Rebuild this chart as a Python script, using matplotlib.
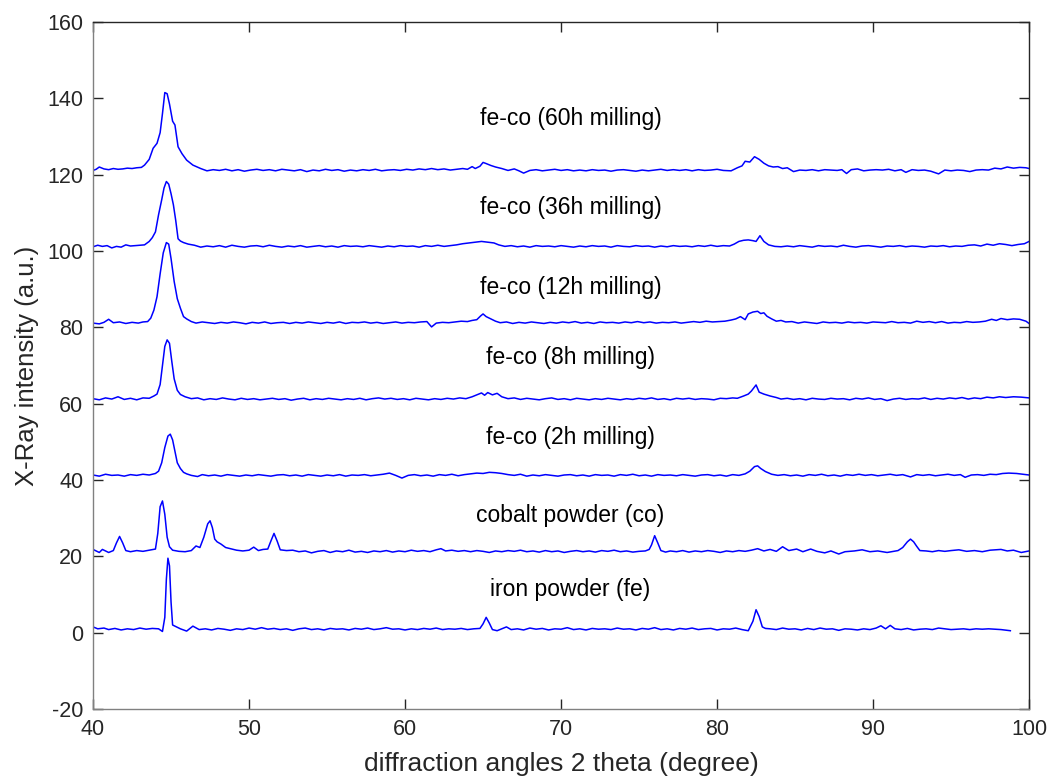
import matplotlib
matplotlib.use("Agg")
import matplotlib.pyplot as plt

plt.rcParams['font.family'] = ['Liberation Sans', 'DejaVu Sans']
plt.rcParams['axes.unicode_minus'] = False

# ---- data: (2theta, intensity) points ----
iron_powder = [(40.0,1.5),(40.3,1.0),(40.7,1.2),(41.0,0.8),(41.4,1.1),(41.8,0.7),(42.2,1.0),(42.6,0.8),(43.0,1.2),(43.4,0.9),(43.8,1.1),(44.2,1.0),(44.45,0.3),(44.6,4.0),(44.7,14.0),(44.8,19.5),(44.9,17.5),(45.0,8.0),(45.1,2.0),(45.3,1.6),(45.6,1.0),(46.0,0.4),(46.4,1.7),(46.8,0.8),(47.2,1.0),(47.6,0.7),(48.0,1.1),(48.4,0.9),(48.8,0.6),(49.2,1.0),(49.6,0.8),(50.0,1.2),(50.4,0.9),(50.8,1.3),(51.2,0.9),(51.6,1.1),(52.0,0.8),(52.4,1.0),(52.8,0.6),(53.2,1.0),(53.6,1.2),(54.0,0.8),(54.4,1.0),(54.8,0.7),(55.2,1.1),(55.6,0.9),(56.0,1.0),(56.4,0.7),(56.8,1.1),(57.2,0.9),(57.6,1.2),(58.0,0.8),(58.4,1.0),(58.8,1.3),(59.2,0.9),(59.6,1.0),(60.0,0.7),(60.4,1.0),(60.8,0.8),(61.2,1.1),(61.6,0.9),(62.0,1.2),(62.4,0.8),(62.8,1.0),(63.2,0.9),(63.6,1.1),(64.0,0.8),(64.4,1.0),(64.8,1.1),(65.0,2.3),(65.2,4.0),(65.4,2.5),(65.6,0.8),(65.9,0.5),(66.2,1.0),(66.5,1.5),(66.8,0.8),(67.2,1.0),(67.6,0.7),(68.0,1.2),(68.4,0.9),(68.8,1.1),(69.2,0.7),(69.6,1.0),(70.0,0.9),(70.4,1.3),(70.8,0.8),(71.2,1.0),(71.6,0.7),(72.0,1.1),(72.4,0.9),(72.8,1.0),(73.2,0.8),(73.6,1.2),(74.0,0.9),(74.4,1.0),(74.8,0.7),(75.2,1.1),(75.6,0.9),(76.0,1.3),(76.4,0.8),(76.8,1.0),(77.2,0.7),(77.6,1.1),(78.0,0.9),(78.4,1.2),(78.8,0.8),(79.2,1.0),(79.6,1.1),(80.0,0.7),(80.4,1.0),(80.8,0.9),(81.2,1.2),(81.6,0.8),(82.0,0.5),(82.3,3.0),(82.5,6.0),(82.7,4.2),(82.9,1.5),(83.1,1.1),(83.4,1.0),(83.8,0.8),(84.2,1.2),(84.6,0.9),(85.0,1.0),(85.4,0.7),(85.8,1.1),(86.2,0.8),(86.6,1.2),(87.0,0.9),(87.4,1.0),(87.8,0.6),(88.2,1.0),(88.6,0.9),(89.0,0.7),(89.4,1.0),(89.8,0.8),(90.2,1.2),(90.5,1.8),(90.8,1.0),(91.1,1.9),(91.4,1.0),(91.8,0.8),(92.2,1.1),(92.6,0.7),(93.0,0.9),(93.4,1.0),(93.8,0.8),(94.2,1.2),(94.6,1.0),(95.0,0.8),(95.4,0.9),(95.8,1.0),(96.2,0.8),(96.6,1.0),(97.0,0.9),(97.4,1.0),(97.8,0.9),(98.2,0.8),(98.8,0.5)]

cobalt_powder = [(40.0,21.8),(40.2,21.4),(40.4,21.0),(40.6,21.8),(40.8,21.4),(41.0,21.0),(41.3,21.5),(41.5,23.5),(41.7,25.2),(41.9,23.5),(42.1,21.5),(42.4,21.2),(42.8,21.5),(43.2,21.3),(43.6,21.6),(44.0,21.9),(44.15,26.0),(44.3,33.0),(44.45,34.5),(44.6,31.0),(44.75,25.0),(44.9,22.5),(45.1,21.6),(45.5,21.3),(45.9,21.2),(46.3,21.5),(46.6,22.7),(46.85,22.3),(47.1,25.0),(47.35,28.5),(47.5,29.3),(47.65,27.5),(47.8,24.5),(47.95,23.8),(48.2,23.2),(48.5,22.3),(48.8,22.0),(49.2,21.6),(49.6,21.4),(50.0,21.6),(50.3,22.4),(50.6,21.5),(50.9,21.8),(51.2,21.9),(51.4,24.0),(51.6,26.0),(51.8,24.0),(52.0,21.7),(52.4,21.5),(52.8,21.6),(53.2,21.2),(53.6,21.4),(54.0,20.9),(54.4,21.3),(54.8,21.5),(55.2,21.0),(55.6,21.4),(56.0,21.2),(56.4,21.6),(56.8,21.1),(57.2,21.3),(57.6,21.0),(58.0,21.4),(58.4,21.2),(58.8,21.5),(59.2,21.1),(59.6,21.4),(60.0,21.2),(60.4,21.6),(60.8,21.3),(61.2,21.5),(61.6,21.2),(62.0,21.7),(62.3,22.0),(62.6,21.4),(63.0,21.6),(63.4,21.3),(63.8,21.5),(64.2,21.2),(64.6,21.5),(65.0,21.3),(65.4,21.0),(65.8,21.4),(66.2,21.2),(66.6,21.5),(67.0,21.3),(67.4,21.6),(67.8,21.2),(68.2,21.4),(68.6,21.1),(69.0,21.5),(69.4,21.2),(69.8,21.4),(70.2,21.0),(70.6,21.3),(71.0,21.5),(71.4,21.2),(71.8,21.4),(72.2,21.1),(72.6,21.5),(73.0,21.3),(73.4,21.6),(73.8,21.2),(74.2,21.4),(74.6,21.1),(75.0,21.3),(75.4,21.4),(75.65,21.8),(75.8,23.0),(76.0,25.4),(76.2,23.5),(76.4,21.5),(76.7,21.1),(77.0,21.4),(77.4,21.2),(77.8,21.5),(78.2,21.1),(78.6,21.4),(79.0,21.2),(79.4,21.5),(79.8,21.3),(80.2,21.0),(80.6,21.4),(81.0,21.2),(81.4,21.5),(81.8,21.3),(82.2,21.6),(82.6,22.0),(83.0,21.4),(83.4,21.8),(83.8,21.3),(84.2,22.5),(84.6,21.5),(85.1,21.9),(85.5,21.2),(86.0,21.9),(86.4,21.3),(86.9,20.9),(87.3,21.4),(87.8,20.6),(88.2,21.2),(88.8,21.4),(89.3,21.7),(89.8,21.2),(90.3,21.4),(90.9,21.0),(91.3,21.3),(91.6,21.5),(91.9,22.3),(92.2,23.8),(92.4,24.5),(92.6,23.8),(92.8,22.6),(93.0,21.5),(93.4,21.4),(93.8,21.2),(94.2,21.5),(94.6,21.3),(95.0,21.5),(95.5,21.7),(96.0,21.3),(96.5,21.5),(97.0,21.2),(97.5,21.6),(98.2,21.8),(98.6,21.4),(99.0,21.6),(99.5,21.0),(100.0,21.4)]

feco_2h = [(40.0,41.3),(40.4,41.0),(40.8,41.5),(41.2,41.2),(41.6,41.3),(42.0,41.0),(42.4,41.4),(42.8,41.2),(43.2,41.5),(43.6,41.3),(44.0,41.7),(44.2,42.3),(44.4,44.5),(44.6,48.5),(44.8,51.5),(44.95,52.0),(45.1,50.5),(45.25,47.5),(45.4,44.5),(45.6,43.0),(45.8,42.0),(46.0,41.6),(46.3,41.2),(46.7,40.9),(47.0,41.4),(47.4,41.1),(47.8,41.3),(48.2,41.0),(48.6,41.4),(49.0,41.2),(49.4,41.0),(49.8,41.3),(50.2,41.1),(50.6,41.4),(51.0,41.2),(51.4,41.0),(51.8,41.3),(52.2,41.4),(52.6,41.1),(53.0,41.3),(53.4,41.0),(53.8,41.4),(54.2,41.2),(54.6,41.0),(55.0,41.3),(55.4,41.1),(55.8,41.4),(56.2,41.0),(56.6,41.3),(57.0,41.2),(57.4,41.4),(57.8,41.1),(58.2,41.3),(58.6,41.5),(59.0,41.8),(59.4,41.2),(59.8,40.5),(60.2,41.2),(60.6,41.4),(61.0,41.1),(61.4,41.3),(61.8,41.0),(62.2,41.4),(62.6,41.2),(63.0,41.5),(63.4,41.1),(63.8,41.4),(64.2,41.6),(64.6,41.8),(65.0,41.7),(65.4,42.0),(65.8,41.9),(66.2,41.7),(66.6,41.4),(67.0,41.2),(67.4,41.5),(67.8,41.0),(68.2,41.3),(68.6,41.1),(69.0,41.4),(69.4,41.2),(69.8,41.0),(70.2,41.3),(70.6,41.4),(71.0,41.1),(71.4,41.3),(71.8,41.0),(72.2,41.4),(72.6,41.2),(73.0,41.3),(73.4,41.0),(73.8,41.4),(74.2,41.2),(74.6,41.5),(75.0,41.1),(75.4,41.3),(75.8,41.0),(76.2,41.4),(76.6,41.2),(77.0,41.3),(77.4,41.1),(77.8,41.4),(78.2,41.2),(78.6,41.0),(79.0,41.3),(79.4,41.4),(79.8,41.1),(80.2,41.3),(80.6,41.0),(81.0,41.4),(81.4,41.2),(81.8,41.6),(82.1,42.3),(82.4,43.5),(82.6,43.7),(82.8,43.0),(83.1,42.2),(83.5,41.5),(83.9,41.2),(84.3,41.4),(84.7,41.1),(85.1,41.3),(85.5,41.0),(85.9,41.4),(86.3,41.2),(86.7,41.5),(87.1,41.1),(87.5,41.3),(87.9,41.0),(88.3,41.4),(88.7,41.2),(89.1,41.5),(89.5,41.2),(89.9,41.4),(90.3,41.1),(90.7,41.3),(91.1,41.5),(91.5,41.2),(91.9,41.4),(92.4,40.8),(92.8,41.4),(93.2,41.2),(93.6,41.4),(94.0,41.1),(94.4,41.3),(94.8,41.5),(95.2,41.2),(95.6,41.4),(95.9,40.7),(96.3,41.3),(96.7,41.4),(97.1,41.2),(97.5,41.5),(97.9,41.4),(98.3,41.7),(98.7,41.8),(99.2,41.7),(99.6,41.5),(100.0,41.3)]

feco_8h = [(40.0,61.3),(40.4,61.0),(40.8,61.5),(41.2,61.2),(41.6,61.8),(42.0,61.1),(42.4,61.4),(42.8,61.0),(43.2,61.5),(43.6,61.4),(43.9,62.0),(44.1,62.5),(44.3,65.0),(44.45,70.0),(44.6,75.0),(44.75,76.7),(44.9,75.8),(45.05,71.0),(45.2,66.5),(45.4,63.5),(45.6,62.4),(45.9,61.8),(46.3,61.3),(46.7,61.5),(47.1,61.0),(47.5,61.3),(47.9,61.1),(48.3,61.5),(48.7,61.2),(49.1,61.0),(49.5,61.4),(49.9,61.1),(50.3,61.3),(50.7,61.0),(51.1,61.2),(51.5,61.4),(51.9,61.1),(52.3,61.3),(52.7,60.9),(53.1,61.2),(53.5,61.4),(53.9,61.0),(54.3,61.3),(54.7,61.1),(55.1,61.4),(55.5,61.2),(55.9,61.0),(56.3,61.3),(56.7,61.1),(57.1,61.4),(57.5,61.0),(57.9,61.3),(58.3,61.5),(58.7,61.2),(59.1,61.4),(59.5,61.1),(59.9,61.3),(60.3,61.0),(60.7,61.4),(61.1,61.2),(61.5,61.0),(61.9,61.3),(62.3,61.1),(62.7,61.4),(63.1,61.2),(63.5,61.5),(63.9,61.3),(64.3,61.8),(64.6,62.3),(64.9,62.8),(65.1,62.2),(65.3,62.9),(65.6,62.3),(65.9,62.7),(66.2,61.8),(66.6,61.3),(67.0,61.5),(67.4,61.1),(67.8,61.4),(68.2,61.2),(68.6,61.0),(69.0,61.3),(69.4,61.5),(69.8,61.1),(70.2,61.3),(70.6,61.0),(71.0,61.4),(71.4,61.2),(71.8,61.0),(72.2,61.3),(72.6,61.1),(73.0,61.4),(73.4,61.2),(73.8,61.0),(74.2,61.3),(74.6,61.1),(75.0,61.4),(75.4,61.2),(75.8,61.5),(76.2,61.1),(76.6,61.3),(77.0,61.0),(77.4,61.4),(77.8,61.2),(78.2,61.4),(78.6,61.1),(79.0,61.3),(79.4,61.2),(79.8,61.0),(80.2,61.4),(80.6,61.3),(81.0,61.5),(81.3,61.4),(81.7,62.0),(82.0,62.5),(82.2,63.3),(82.5,64.9),(82.7,63.0),(83.0,62.5),(83.4,62.0),(83.8,61.6),(84.1,61.2),(84.5,61.4),(84.9,61.1),(85.3,61.3),(85.7,61.0),(86.1,61.4),(86.5,61.2),(86.9,61.1),(87.3,61.4),(87.7,61.2),(88.1,61.3),(88.5,61.0),(88.9,61.4),(89.3,61.2),(89.7,61.5),(90.1,61.1),(90.5,61.3),(90.9,60.8),(91.3,61.2),(91.7,61.4),(92.1,61.1),(92.5,61.3),(92.9,61.2),(93.3,61.5),(93.7,61.1),(94.1,61.4),(94.5,61.2),(94.9,61.5),(95.3,61.3),(95.7,61.6),(96.1,61.2),(96.5,61.5),(96.9,61.3),(97.3,61.7),(97.7,61.5),(98.1,61.8),(98.5,61.6),(99.0,61.8),(99.5,61.7),(100.0,61.5)]

feco_12h = [(40.0,81.1),(40.4,80.9),(40.7,81.3),(41.0,82.1),(41.3,81.2),(41.7,81.4),(42.1,81.0),(42.5,81.3),(42.9,81.1),(43.2,81.4),(43.5,81.5),(43.7,82.4),(43.9,84.5),(44.1,88.0),(44.3,94.0),(44.5,99.5),(44.7,102.2),(44.85,101.8),(45.0,98.0),(45.2,92.0),(45.4,87.5),(45.6,85.0),(45.8,82.8),(46.0,82.2),(46.3,81.5),(46.6,81.1),(47.0,81.4),(47.4,81.2),(47.8,81.0),(48.2,81.3),(48.6,81.1),(49.0,81.4),(49.4,81.2),(49.8,80.9),(50.2,81.3),(50.6,81.1),(51.0,81.4),(51.4,81.0),(51.8,81.2),(52.2,81.3),(52.6,81.0),(53.0,81.3),(53.4,81.1),(53.8,81.4),(54.2,81.2),(54.6,81.0),(55.0,81.3),(55.4,81.1),(55.8,81.4),(56.2,81.0),(56.6,81.3),(57.0,81.2),(57.4,81.4),(57.8,81.1),(58.2,81.3),(58.6,81.0),(59.0,81.2),(59.4,81.4),(59.8,81.1),(60.2,81.3),(60.6,81.2),(61.0,81.4),(61.4,81.5),(61.7,80.1),(62.0,81.1),(62.4,81.3),(62.8,81.2),(63.2,81.4),(63.6,81.6),(64.0,81.5),(64.3,81.8),(64.6,82.0),(64.85,83.0),(65.0,83.5),(65.2,82.8),(65.5,82.2),(65.8,81.6),(66.1,81.2),(66.5,81.4),(66.9,81.0),(67.3,81.3),(67.7,81.1),(68.1,81.4),(68.5,81.2),(68.9,81.0),(69.3,81.3),(69.7,81.1),(70.1,81.4),(70.5,81.2),(70.9,81.5),(71.3,81.1),(71.7,81.3),(72.1,81.0),(72.5,81.4),(72.9,81.2),(73.3,81.3),(73.7,81.1),(74.1,81.4),(74.5,81.2),(74.9,81.5),(75.3,81.2),(75.7,81.4),(76.1,81.1),(76.5,81.3),(76.9,81.2),(77.3,81.4),(77.7,81.1),(78.1,81.3),(78.5,81.5),(78.9,81.3),(79.3,81.6),(79.7,81.4),(80.1,81.5),(80.5,81.6),(80.9,81.9),(81.2,82.2),(81.5,82.8),(81.8,82.0),(82.0,83.5),(82.3,84.0),(82.6,84.2),(82.8,83.6),(83.0,83.8),(83.2,82.9),(83.5,82.2),(83.8,81.6),(84.1,81.8),(84.4,81.4),(84.8,81.5),(85.2,81.1),(85.6,81.4),(86.0,81.2),(86.4,81.0),(86.8,81.4),(87.2,81.2),(87.6,81.3),(88.0,81.1),(88.4,81.4),(88.8,81.2),(89.2,81.3),(89.6,81.1),(90.0,81.4),(90.4,81.3),(90.8,81.2),(91.2,81.5),(91.6,81.2),(92.0,81.3),(92.4,81.1),(92.8,81.6),(93.2,81.3),(93.6,81.5),(94.0,81.2),(94.4,81.5),(94.8,81.1),(95.2,81.3),(95.6,81.2),(96.0,81.5),(96.4,81.3),(96.8,81.4),(97.2,81.6),(97.6,82.1),(97.9,81.8),(98.2,82.3),(98.6,82.0),(99.0,82.2),(99.4,82.1),(99.8,81.6),(100.0,81.0)]

feco_36h = [(40.0,101.1),(40.3,101.5),(40.6,101.2),(40.9,101.4),(41.2,100.8),(41.5,101.2),(41.8,101.0),(42.1,101.6),(42.4,101.3),(42.7,101.4),(43.0,101.5),(43.3,101.6),(43.6,102.5),(43.8,103.5),(44.0,105.0),(44.2,109.5),(44.4,113.4),(44.55,116.5),(44.7,118.2),(44.85,117.5),(45.0,115.0),(45.15,112.1),(45.3,108.0),(45.45,103.2),(45.6,102.6),(45.8,102.2),(46.1,101.8),(46.5,101.5),(46.9,101.0),(47.3,101.3),(47.7,101.1),(48.1,101.4),(48.5,101.0),(48.9,101.5),(49.3,101.2),(49.7,101.0),(50.1,101.3),(50.5,101.4),(50.9,101.1),(51.3,101.5),(51.7,101.2),(52.1,101.0),(52.5,101.3),(52.9,101.1),(53.3,101.4),(53.7,101.0),(54.1,101.2),(54.5,101.4),(54.9,101.1),(55.3,101.3),(55.7,101.0),(56.1,101.4),(56.5,101.2),(56.9,101.3),(57.3,101.1),(57.7,101.4),(58.1,101.2),(58.5,101.0),(58.9,101.3),(59.3,101.1),(59.7,101.4),(60.1,101.2),(60.5,101.3),(60.9,101.0),(61.3,101.4),(61.7,101.2),(62.1,101.5),(62.5,101.2),(62.9,101.4),(63.3,101.6),(63.7,101.9),(64.1,102.1),(64.5,102.3),(64.9,102.5),(65.3,102.3),(65.7,102.1),(66.0,101.6),(66.4,101.2),(66.8,101.4),(67.2,101.1),(67.6,101.3),(68.0,101.0),(68.4,101.4),(68.8,101.2),(69.2,101.3),(69.6,101.1),(70.0,101.4),(70.4,101.2),(70.8,101.0),(71.2,101.3),(71.6,101.1),(72.0,101.4),(72.4,101.2),(72.8,101.3),(73.2,101.0),(73.6,101.4),(74.0,101.2),(74.4,101.1),(74.8,101.4),(75.2,101.2),(75.6,101.3),(76.0,101.0),(76.4,101.3),(76.8,101.1),(77.2,101.4),(77.6,101.2),(78.0,101.3),(78.4,101.1),(78.8,101.4),(79.2,101.2),(79.6,101.5),(80.0,101.2),(80.4,101.4),(80.8,101.3),(81.1,101.8),(81.4,102.5),(81.7,102.8),(82.0,102.9),(82.3,102.7),(82.5,102.5),(82.75,104.0),(83.0,102.5),(83.3,101.6),(83.7,101.2),(84.1,101.1),(84.5,101.3),(84.9,101.1),(85.3,101.4),(85.7,101.2),(86.1,101.0),(86.5,101.4),(86.9,101.2),(87.3,101.3),(87.7,101.1),(88.1,101.5),(88.5,101.2),(88.9,101.0),(89.3,101.3),(89.7,101.4),(90.1,101.2),(90.5,101.0),(90.9,101.3),(91.3,101.2),(91.7,101.4),(92.1,101.1),(92.5,101.3),(92.9,101.2),(93.3,101.0),(93.7,101.3),(94.1,101.2),(94.5,101.4),(94.9,101.1),(95.3,101.3),(95.7,101.2),(96.1,101.5),(96.5,101.6),(96.9,101.3),(97.3,101.8),(97.7,101.5),(98.1,101.9),(98.5,101.7),(98.9,101.4),(99.3,101.7),(99.7,101.9),(100.0,102.5)]

feco_60h = [(40.0,121.1),(40.2,121.4),(40.4,122.0),(40.7,121.5),(41.0,121.3),(41.3,121.6),(41.6,121.4),(41.9,121.5),(42.2,121.7),(42.5,121.6),(42.8,121.8),(43.1,121.9),(43.3,122.5),(43.6,124.0),(43.85,126.9),(44.1,128.2),(44.3,131.0),(44.45,136.0),(44.6,141.5),(44.75,141.2),(44.9,138.5),(45.1,134.0),(45.25,133.0),(45.45,127.3),(45.7,125.5),(46.0,123.8),(46.4,122.5),(46.9,121.6),(47.3,121.0),(47.7,121.3),(48.1,121.1),(48.5,121.4),(48.9,121.0),(49.3,121.3),(49.7,120.9),(50.1,121.2),(50.5,121.4),(50.9,121.1),(51.3,121.3),(51.7,121.0),(52.1,121.4),(52.5,121.2),(52.9,121.0),(53.3,121.3),(53.7,120.8),(54.1,121.2),(54.5,121.0),(54.9,121.4),(55.3,121.1),(55.7,121.3),(56.1,120.9),(56.5,121.2),(56.9,121.0),(57.3,121.3),(57.7,121.1),(58.1,121.4),(58.5,121.0),(58.9,121.2),(59.3,121.3),(59.7,121.1),(60.1,121.4),(60.5,121.2),(60.9,121.5),(61.3,121.3),(61.7,121.6),(62.1,121.3),(62.5,121.5),(62.9,121.2),(63.3,121.4),(63.7,121.6),(64.0,121.4),(64.3,122.1),(64.5,121.6),(64.8,122.2),(65.0,123.2),(65.2,122.9),(65.5,122.4),(65.8,122.0),(66.2,121.6),(66.6,121.1),(67.0,121.5),(67.3,121.0),(67.6,120.4),(68.0,121.1),(68.4,121.3),(68.8,121.0),(69.2,121.2),(69.6,121.4),(70.0,121.1),(70.4,121.3),(70.8,121.0),(71.2,121.2),(71.6,121.0),(72.0,121.3),(72.4,121.1),(72.8,121.2),(73.2,120.9),(73.6,121.2),(74.0,121.3),(74.4,121.1),(74.8,120.9),(75.2,121.2),(75.6,121.0),(76.0,121.2),(76.4,121.4),(76.8,121.1),(77.2,121.3),(77.6,121.1),(78.0,121.3),(78.4,121.0),(78.8,121.3),(79.2,121.1),(79.6,121.2),(80.0,121.4),(80.4,121.1),(80.9,121.0),(81.3,121.8),(81.6,122.3),(81.8,123.5),(82.1,123.3),(82.4,124.7),(82.7,124.0),(83.0,123.0),(83.3,122.3),(83.6,122.0),(83.9,122.1),(84.2,121.6),(84.5,121.8),(84.9,120.8),(85.3,121.2),(85.7,121.1),(86.1,121.3),(86.5,121.0),(86.9,121.3),(87.3,121.2),(87.7,121.1),(88.0,121.3),(88.3,120.3),(88.6,121.3),(89.0,121.5),(89.4,121.0),(89.8,121.2),(90.2,121.3),(90.6,121.2),(91.0,121.4),(91.4,121.0),(91.8,121.3),(92.1,120.6),(92.5,121.3),(92.9,121.1),(93.3,121.2),(93.7,120.9),(94.2,120.2),(94.6,121.2),(95.0,121.0),(95.4,121.2),(95.8,121.1),(96.2,120.8),(96.6,121.2),(97.0,121.3),(97.4,121.2),(97.8,121.7),(98.2,121.5),(98.6,122.0),(99.0,121.7),(99.4,121.9),(99.8,121.8),(100.0,121.6)]

series = [iron_powder, cobalt_powder, feco_2h, feco_8h, feco_12h, feco_36h, feco_60h]

labels = ['iron powder (fe)', 'cobalt powder (co)', 'fe-co (2h milling)',
          'fe-co (8h milling)', 'fe-co (12h milling)', 'fe-co (36h milling)',
          'fe-co (60h milling)']
label_x = [70.6, 70.6, 70.6, 70.6, 70.6, 70.6, 70.6]
label_y = [11.4, 30.6, 51.2, 72.2, 90.3, 111.5, 134.8]

x_ticks = [40, 50, 60, 70, 80, 90, 100]
y_ticks = [-20, 0, 20, 40, 60, 80, 100, 120, 140, 160]

# ---- figure ----
fig = plt.figure(figsize=(10.49, 7.82), dpi=100)
ax = fig.add_axes([0.0887, 0.0934, 0.981 - 0.0887, 0.9719 - 0.0934])

for pts in series:
    xs = [p[0] for p in pts]
    ys = [p[1] for p in pts]
    ax.plot(xs, ys, color=(0, 0, 1), linewidth=1.1)

for t, lx, ly in zip(labels, label_x, label_y):
    ax.text(lx, ly, t, ha='center', va='center', fontsize=16.5, color='black')

ax.set_xlim(40, 100)
ax.set_ylim(-20, 160)
ax.set_xticks(x_ticks)
ax.set_yticks(y_ticks)
ax.tick_params(direction='in', length=7, width=1, top=True, right=True,
               labelsize=15.5, colors='#262626', pad=7)
for name, s in ax.spines.items():
    s.set_linewidth(1.0)
    s.set_color('#808080' if name in ('left', 'bottom') else '#262626')

ax.set_xlabel('diffraction angles 2 theta (degree)', fontsize=19, color='#262626', labelpad=9)
ax.set_ylabel('X-Ray intensity (a.u.)', fontsize=18.5, color='#262626', labelpad=6)

fig.savefig('out.png', dpi=100)
